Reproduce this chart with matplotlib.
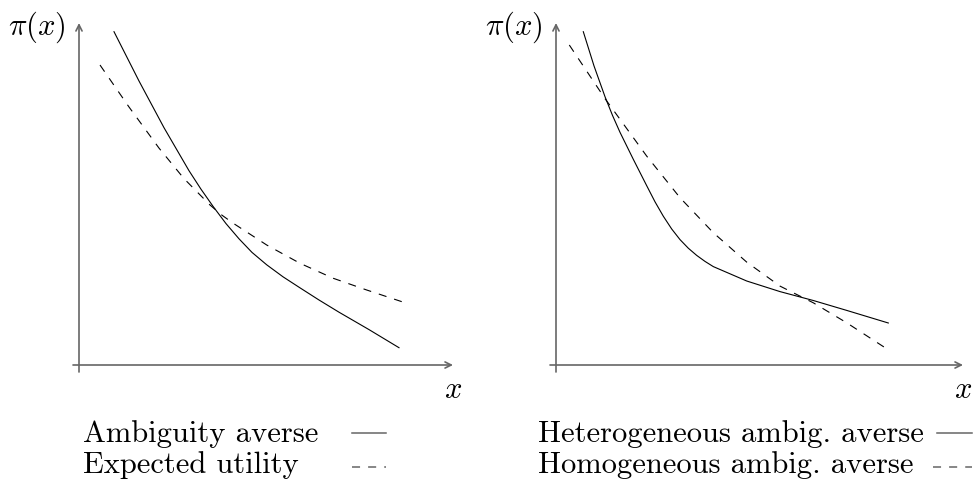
import matplotlib
matplotlib.use("Agg")
import matplotlib.pyplot as plt
from matplotlib.lines import Line2D

plt.rcParams['font.family'] = ['cmr10', 'DejaVu Serif']
plt.rcParams['mathtext.fontset'] = 'cm'
plt.rcParams['axes.formatter.use_mathtext'] = True
plt.rcParams['lines.scale_dashes'] = False

# datos (unidades arbitrarias, origen en los ejes)
izq_aa_x = [35.0, 60.0, 85.0, 110.0, 122.0, 134.3, 147.0, 160.0, 173.0, 187.7, 204.0, 220.0, 240.0,
            260.0, 290.0, 320.0]
izq_aa_y = [333.3, 284.0, 237.3, 194.3, 175.8, 158.3, 141.4, 126.2, 112.6, 100.2, 88.2, 77.8, 65.0,
            52.8, 35.4, 17.3]
izq_eu_x = [21.0, 50.0, 80.0, 105.0, 131.0, 143.0, 154.3, 187.7, 221.0, 254.3, 287.7, 327.7]
izq_eu_y = [300.0, 258.0, 216.9, 186.4, 160.0, 149.8, 141.7, 120.0, 101.7, 86.7, 75.0, 61.7]

der_het_x = [27.3, 38.0, 49.0, 56.5, 64.0, 77.3, 90.7, 99.0, 107.3, 115.7, 124.0, 132.3, 140.7,
             149.0, 157.3, 190.7, 224.0, 257.3, 290.7, 332.3]
der_het_y = [333.3, 299.1, 268.3, 249.6, 232.7, 205.7, 179.3, 163.2, 148.8, 136.0, 125.4, 116.8, 109.6,
             103.6, 98.4, 84.0, 73.4, 64.5, 54.6, 42.0]
der_hom_x = [13.3, 49.0, 90.7, 124.0, 157.3, 190.7, 224.0, 257.3, 290.7, 332.3]
der_hom_y = [320.0, 266.4, 208.9, 167.3, 132.3, 102.9, 78.9, 62.2, 42.2, 15.2]

etiquetas_izq = ['Ambiguity averse', 'Expected utility']
etiquetas_der = ['Heterogeneous ambig. averse', 'Homogeneous ambig. averse']

W, H = 974, 480
fig = plt.figure(figsize=(W / 100, H / 100), dpi=100)
gris = '#666666'
discont = (5.8, 5.8)
fs = 22.0


def panel(rect, xlim, xmax, curvas):
    ax = fig.add_axes(rect)
    ax.set_xlim(*xlim)
    ax.set_ylim(-115, 365)
    ax.axis('off')
    flecha = dict(arrowstyle='->', color=gris, lw=1.2, shrinkA=0, shrinkB=0, mutation_scale=11)
    ax.annotate('', xy=(xmax, 0), xytext=(-6, 0), arrowprops=flecha)
    ax.annotate('', xy=(0, 342), xytext=(0, -7), arrowprops=flecha)
    for xs, ys, estilo in curvas:
        l, = ax.plot(xs, ys, color='black', lw=0.8)
        if estilo == 'dashed':
            l.set_dashes(discont)
    ax.text(-13, 330, r'$\pi(x)$', fontsize=fs, ha='right', va='baseline')
    ax.text(xmax, -25, r'$x$', fontsize=fs, ha='center', va='center')
    return ax


panel([0, 0, 487 / W, 1], (-79, 408), 374,
      [(izq_aa_x, izq_aa_y, 'solid'), (izq_eu_x, izq_eu_y, 'dashed')])
panel([487 / W, 0, 487 / W, 1], (-69, 418), 407,
      [(der_het_x, der_het_y, 'solid'), (der_hom_x, der_hom_y, 'dashed')])


def fx(px):
    return px / W


def fy(py):
    return 1 - py / H


# leyendas
bases = [442, 473]
alturas = [433, 467]
for x0, etiquetas, lineas in [(83, etiquetas_izq, [(352, 386), (352, 386)]),
                              (538, etiquetas_der, [(937, 972), (933, 972)])]:
    for i, et in enumerate(etiquetas):
        fig.text(fx(x0), fy(bases[i]), et, fontsize=fs, ha='left', va='baseline')
        a, b = lineas[i]
        ln = Line2D([fx(a), fx(b)], [fy(alturas[i])] * 2, transform=fig.transFigure,
                    color=gris, lw=1.1)
        if i == 1:
            ln.set_dashes(discont)
        fig.add_artist(ln)

fig.savefig('out.png', dpi=100)
